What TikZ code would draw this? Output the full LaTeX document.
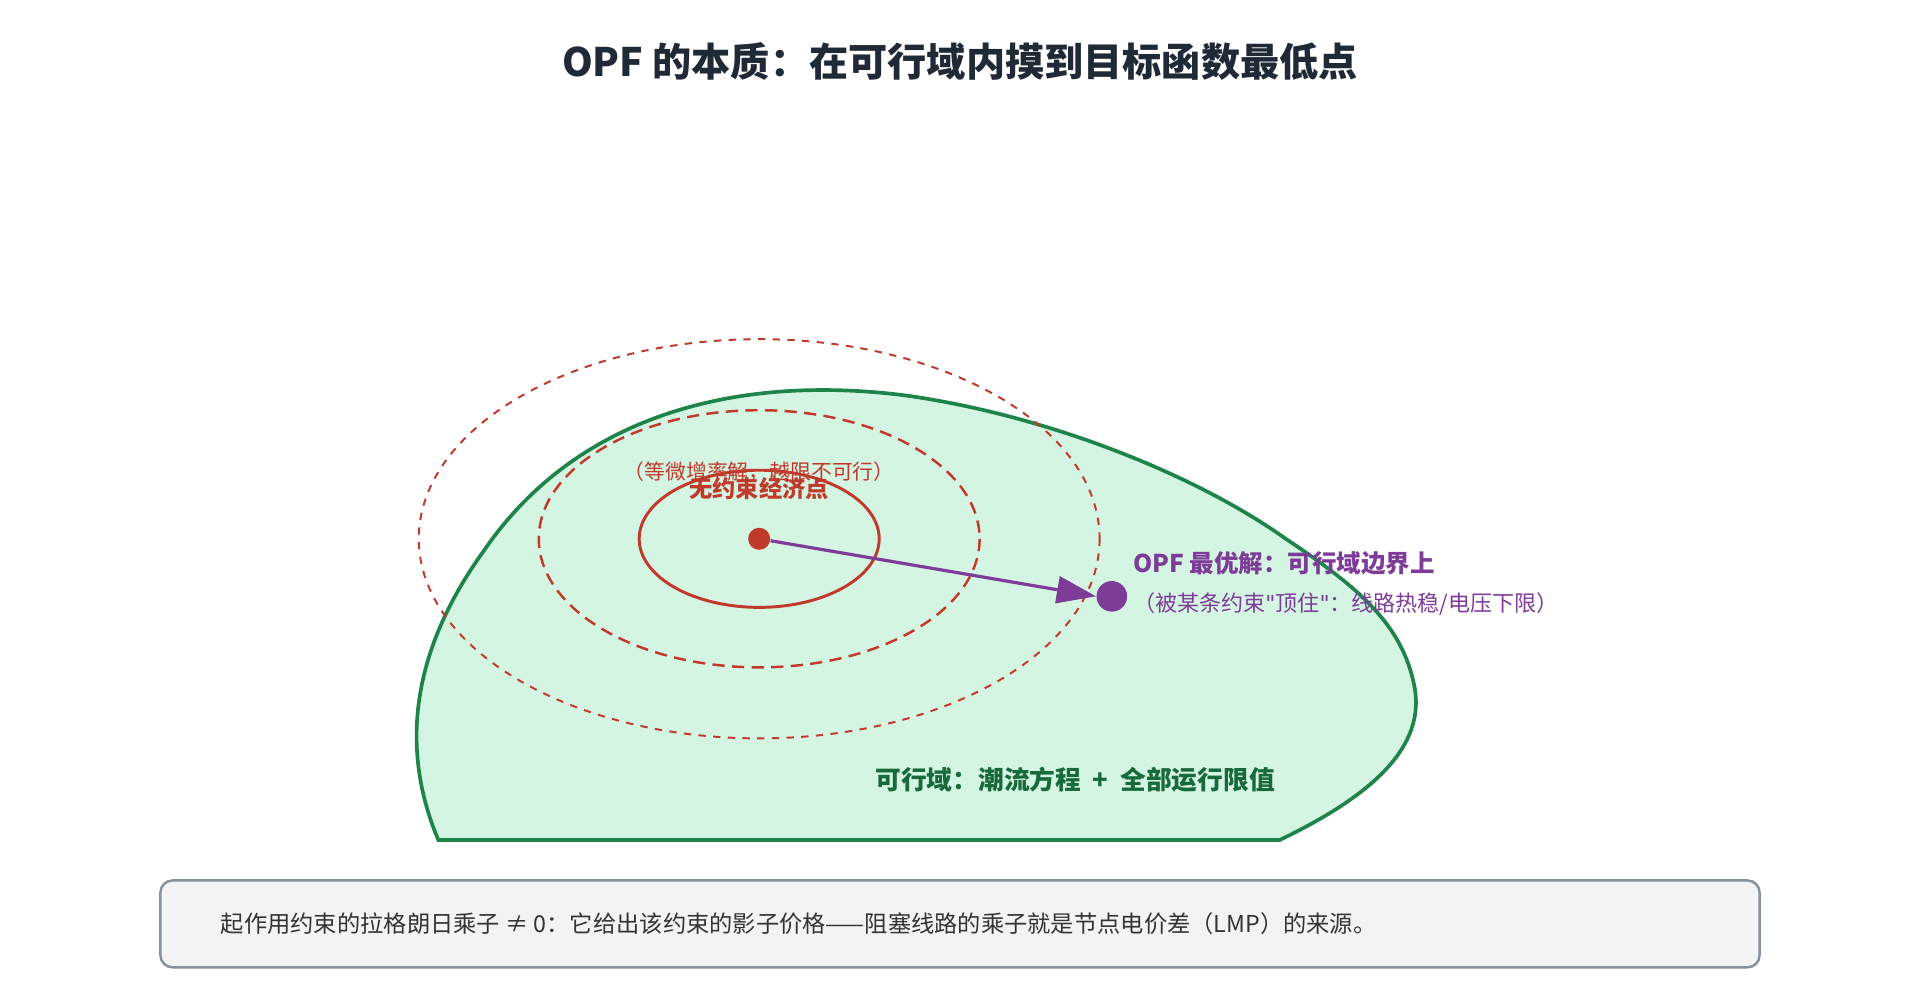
\documentclass[tikz,border=0pt]{standalone}
\usepackage{fontspec}
\setmainfont{Noto Sans CJK SC}
\newfontfamily\latq{DejaVu Sans}
\usetikzlibrary{arrows.meta}
\definecolor{feas}{HTML}{D5F5E3}
\definecolor{feasb}{HTML}{1E8449}
\definecolor{redc}{HTML}{C0392B}
\definecolor{purp}{HTML}{7D3C98}
\definecolor{titlec}{HTML}{1F2A36}
\definecolor{boxf}{HTML}{F2F3F4}
\definecolor{boxb}{HTML}{85929E}
\newcommand{\sq}{{\latq\symbol{"22}}}
\begin{document}
\begin{tikzpicture}[x=0.5pt,y=-0.5pt,
  ell/.style={draw=redc},
  lbl/.style={inner sep=0pt}]
\useasboundingbox[fill=white] (0,0) rectangle (1568,816);
\node[lbl,font=\fontsize{16}{18}\selectfont\bfseries,text=titlec] (title) at (784,50) {OPF 的本质：在可行域内摸到目标函数最低点};
\draw[draw=feasb,fill=feas,line width=1.5pt] (358,686) -- (1045,686)
  .. controls (1120,650) and (1165,610) .. (1155,560)
  .. controls (1145,510) and (1110,480) .. (1050,440)
  .. controls (980,390) and (860,340) .. (740,323)
  .. controls (600,305) and (470,340) .. (395,450)
  .. controls (330,540) and (330,620) .. (358,686) -- cycle;
\draw[ell,dashed,line width=0.8pt,dash pattern=on 3pt off 3pt] (620,440) ellipse [x radius=278,y radius=163];
\draw[ell,line width=1pt,dash pattern=on 5pt off 3pt] (620,440) ellipse [x radius=180,y radius=105];
\draw[ell,line width=1.2pt] (620,440) ellipse [x radius=98,y radius=56];
\node[circle,fill=redc,minimum size=9pt,inner sep=0pt] (u) at (620,440) {};
\node[circle,fill=purp,minimum size=12.5pt,inner sep=0pt] (o) at (908,487) {};
\draw[purp,line width=1.3pt,-{Triangle[length=16pt,width=11pt]}] (u) -- (o.west);
\node[lbl,text=redc,font=\fontsize{8.5}{10}\selectfont] (n1) at (620,385) {（等微增率解，越限不可行）};
\node[lbl,text=redc,font=\fontsize{9.5}{11}\selectfont\bfseries] (n2) at (620,399) {无约束经济点};
\node[lbl,anchor=west,text=purp,font=\fontsize{10}{12}\selectfont\bfseries] (p1) at (925,460) {OPF 最优解：可行域边界上};
\node[lbl,anchor=west,text=purp,font=\fontsize{9}{11}\selectfont] (p2) at (925,493) {（被某条约束\sq 顶住\sq ：线路热稳/电压下限）};
\node[lbl,text=feasb!80!black,font=\fontsize{10.5}{12}\selectfont\bfseries] (f) at (878,637) {可行域：潮流方程\ \ +\ \ 全部运行限值};
\draw[draw=boxb,fill=boxf,line width=1pt,rounded corners=5pt] (131,719) rectangle (1437,790);
\node[lbl,anchor=west,text=black!80,font=\fontsize{9.5}{11}\selectfont] (b) at (180,754) {起作用约束的拉格朗日乘子 ≠ 0：它给出该约束的影子价格——阻塞线路的乘子就是节点电价差（LMP）的来源。};
\end{tikzpicture}
\end{document}
